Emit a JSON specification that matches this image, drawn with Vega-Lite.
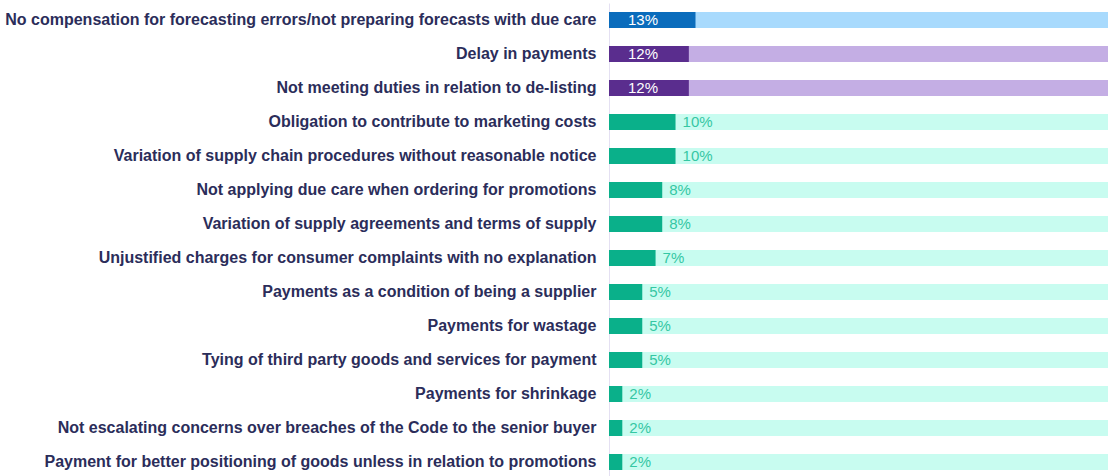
{
  "$schema": "https://vega.github.io/schema/vega-lite/v6.json",
  "width": 499,
  "height": 476,
  "autosize": "none",
  "padding": {"left": 609, "top": 3, "right": 0, "bottom": 0},
  "config": {"view": {"stroke": null}, "font": "Liberation Sans"},
  "data": {
    "values": [
      {"label": "No compensation for forecasting errors/not preparing forecasts with due care", "value": 0.13, "group": "blue"},
      {"label": "Delay in payments", "value": 0.12, "group": "purple"},
      {"label": "Not meeting duties in relation to de-listing", "value": 0.12, "group": "purple"},
      {"label": "Obligation to contribute to marketing costs", "value": 0.10, "group": "teal"},
      {"label": "Variation of supply chain procedures without reasonable notice", "value": 0.10, "group": "teal"},
      {"label": "Not applying due care when ordering for promotions", "value": 0.08, "group": "teal"},
      {"label": "Variation of supply agreements and terms of supply", "value": 0.08, "group": "teal"},
      {"label": "Unjustified charges for consumer complaints with no explanation", "value": 0.07, "group": "teal"},
      {"label": "Payments as a condition of being a supplier", "value": 0.05, "group": "teal"},
      {"label": "Payments for wastage", "value": 0.05, "group": "teal"},
      {"label": "Tying of third party goods and services for payment", "value": 0.05, "group": "teal"},
      {"label": "Payments for shrinkage", "value": 0.02, "group": "teal"},
      {"label": "Not escalating concerns over breaches of the Code to the senior buyer", "value": 0.02, "group": "teal"},
      {"label": "Payment for better positioning of goods unless in relation to promotions", "value": 0.02, "group": "teal"}
    ]
  },
  "encoding": {
    "y": {
      "field": "label",
      "type": "nominal",
      "sort": null,
      "scale": {"paddingInner": 0.53, "paddingOuter": 0.265},
      "axis": {
        "title": null,
        "ticks": false,
        "labelPadding": 13,
        "labelLimit": 700,
        "labelFont": "Liberation Sans",
        "labelFontSize": 16,
        "labelFontWeight": "bold",
        "labelColor": "#2b2d5a",
        "domainColor": "#e4e0f2",
        "domainWidth": 1,
        "grid": false
      }
    }
  },
  "layer": [
    {
      "mark": {"type": "bar", "clip": true},
      "encoding": {
        "x": {"datum": 0.75, "type": "quantitative", "scale": {"domain": [0, 0.75], "nice": false, "zero": true}, "axis": null},
        "color": {
          "field": "group",
          "type": "nominal",
          "scale": {"domain": ["blue", "purple", "teal"], "range": ["#a8dafd", "#c4aee4", "#c8fcf0"]},
          "legend": null
        }
      }
    },
    {
      "mark": {"type": "bar"},
      "encoding": {
        "x": {"field": "value", "type": "quantitative", "axis": null},
        "fill": {
          "field": "group",
          "type": "nominal",
          "scale": {"domain": ["blue", "purple", "teal"], "range": ["#0a6cbc", "#5a2d8e", "#0ab08a"]},
          "legend": null
        }
      }
    },
    {
      "transform": [{"filter": "datum.group !== 'teal'"}],
      "mark": {"type": "text", "align": "left", "baseline": "middle", "dx": 19, "fontSize": 15, "color": "#ffffff", "font": "Liberation Sans"},
      "encoding": {
        "x": {"datum": 0, "type": "quantitative"},
        "text": {"field": "value", "type": "quantitative", "format": ".0%"}
      }
    },
    {
      "transform": [{"filter": "datum.group === 'teal'"}],
      "mark": {"type": "text", "align": "left", "baseline": "middle", "dx": 7, "fontSize": 15, "color": "#35c7a3", "font": "Liberation Sans"},
      "encoding": {
        "x": {"field": "value", "type": "quantitative"},
        "text": {"field": "value", "type": "quantitative", "format": ".0%"}
      }
    }
  ],
  "resolve": {"scale": {"color": "independent"}}
}
